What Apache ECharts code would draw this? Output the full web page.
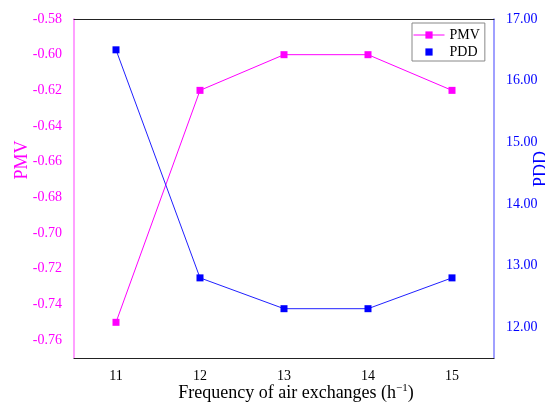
<!DOCTYPE html>
<html>
<head>
<meta charset="utf-8">
<script src="https://cdn.jsdelivr.net/npm/echarts@6/dist/echarts.min.js"></script>
<style>
html,body{margin:0;padding:0;background:#fff;}
#chart{width:545px;height:405px;}
</style>
</head>
<body>
<div id="chart"></div>
<script>
const categories = ['11', '12', '13', '14', '15'];
const pmvValues = [-0.75, -0.62, -0.60, -0.60, -0.62];
const pddValues = [16.5, 12.8, 12.3, 12.3, 12.8];
const xTitle = 'Frequency of air exchanges (h';
const xTitleSup = '\u22121';

const FONT = '"Liberation Serif", "Times New Roman", serif';
const chart = echarts.init(document.getElementById('chart'), null, {renderer: 'canvas'});

const option = {
  animation: false,
  backgroundColor: '#ffffff',
  grid: {left: 74, right: 51, top: 19, bottom: 47, containLabel: false},
  legend: {
    orient: 'vertical',
    left: 412,
    top: 23,
    padding: [5, 5, 2, 1],
    itemGap: 3,
    itemWidth: 31,
    itemHeight: 9,
    borderColor: '#888888',
    borderWidth: 1,
    borderRadius: 0,
    textStyle: {fontFamily: FONT, fontSize: 14, color: '#000000'},
    data: [
      {name: 'PMV', lineStyle: {width: 1}},
      {name: 'PDD', lineStyle: {opacity: 0, width: 0}}
    ]
  },
  xAxis: [
    {
      type: 'category',
      data: categories,
      boundaryGap: true,
      position: 'bottom',
      axisLine: {show: true, lineStyle: {color: '#222222', width: 1}},
      axisTick: {show: false},
      axisLabel: {fontFamily: FONT, fontSize: 14, color: '#000000', margin: 11},
      splitLine: {show: false}
    },
    {
      type: 'category',
      data: categories,
      position: 'top',
      axisLine: {show: true, lineStyle: {color: '#222222', width: 1}},
      axisTick: {show: false},
      axisLabel: {show: false},
      splitLine: {show: false}
    }
  ],
  yAxis: [
    {
      type: 'value',
      position: 'left',
      min: -0.77,
      max: -0.58,
      interval: 0.01,
      axisLine: {show: true, lineStyle: {color: '#ff80ff', width: 1.5}},
      axisTick: {show: false},
      splitLine: {show: false},
      axisLabel: {
        fontFamily: FONT, fontSize: 14, color: '#ff00ff', margin: 12,
        formatter: function (v) {
          const k = Math.round(v * 100);
          return (k % 2 === 0) ? v.toFixed(2) : '';
        }
      }
    },
    {
      type: 'value',
      position: 'right',
      min: 11.5,
      max: 17,
      interval: 0.5,
      axisLine: {show: true, lineStyle: {color: '#8080ff', width: 1.5}},
      axisTick: {show: false},
      splitLine: {show: false},
      axisLabel: {
        fontFamily: FONT, fontSize: 14, color: '#0000ff', margin: 12,
        formatter: function (v) {
          const k = Math.round(v * 2);
          return (k % 2 === 0) ? v.toFixed(2) : '';
        }
      }
    }
  ],
  series: [
    {
      name: 'PMV',
      type: 'line',
      xAxisIndex: 0,
      yAxisIndex: 0,
      data: pmvValues,
      symbol: 'rect',
      symbolSize: 7,
      color: '#ff00ff',
      itemStyle: {color: '#ff00ff'},
      lineStyle: {color: '#ff00ff', width: 1}
    },
    {
      name: 'PDD',
      type: 'line',
      xAxisIndex: 0,
      yAxisIndex: 1,
      data: pddValues,
      symbol: 'rect',
      symbolSize: 7,
      color: '#0000ff',
      itemStyle: {color: '#0000ff'},
      lineStyle: {color: '#2020ff', width: 1}
    }
  ],
  graphic: [
    {
      type: 'text',
      x: 22, y: 160,
      rotation: Math.PI / 2,
      style: {text: 'PMV', fill: '#ff00ff', font: '18px ' + FONT, align: 'center', verticalAlign: 'middle', textAlign: 'center', textVerticalAlign: 'middle'}
    },
    {
      type: 'text',
      x: 541, y: 169,
      rotation: Math.PI / 2,
      style: {text: 'PDD', fill: '#0000ff', font: '18px ' + FONT, align: 'center', verticalAlign: 'middle', textAlign: 'center', textVerticalAlign: 'middle'}
    },
    {
      type: 'text',
      x: 296, y: 393,
      style: {
        text: '{a|' + xTitle + '}{s|' + xTitleSup + '}{a|)}',
        align: 'center', verticalAlign: 'middle', textAlign: 'center', textVerticalAlign: 'middle',
        fill: '#000000',
        rich: {
          a: {fontFamily: FONT, fontSize: 18, fill: '#000000', color: '#000000', lineHeight: 20},
          s: {fontFamily: FONT, fontSize: 11, fill: '#000000', color: '#000000', verticalAlign: 'top', lineHeight: 20, padding: [0, 0, 6, 0]}
        }
      }
    }
  ]
};
chart.setOption(option);
</script>
</body>
</html>
